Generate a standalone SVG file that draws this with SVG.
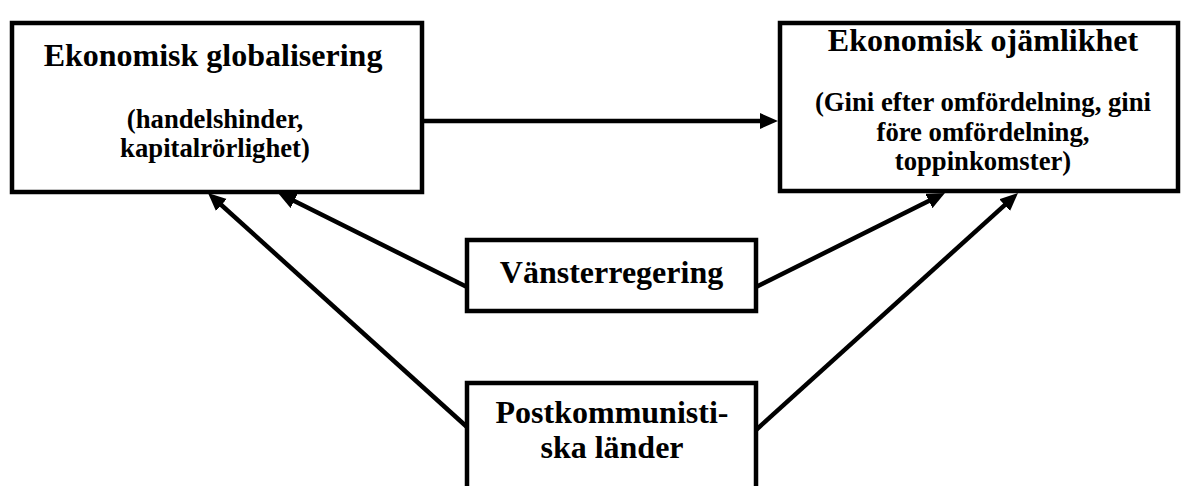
<svg xmlns="http://www.w3.org/2000/svg" width="1182" height="486" viewBox="0 0 1182 486">
  <style>
    .box { fill: #ffffff; stroke: #000000; stroke-width: 4.5; }
    .title { font-family: "Liberation Serif", "Times New Roman", serif; font-weight: bold; font-size: 32px; fill: #000000; text-anchor: middle; }
    .sub { font-family: "Liberation Serif", "Times New Roman", serif; font-weight: bold; font-size: 26.7px; fill: #000000; text-anchor: middle; }
    .conn { fill: none; stroke: #000000; stroke-width: 4.5; }
  </style>
  <defs>
    <marker id="arrow" markerUnits="userSpaceOnUse" markerWidth="20" markerHeight="18" refX="6" refY="8" orient="auto">
      <path d="M0,0 L18,8 L0,16 z" fill="#000000"/>
    </marker>
  </defs>
  <rect width="1182" height="486" fill="#ffffff"/>
  <g id="connectors">
    <line class="conn" x1="424" y1="121" x2="766" y2="121" marker-end="url(#arrow)"/>
    <line class="conn" x1="467" y1="287" x2="288.8" y2="198.3" marker-end="url(#arrow)"/>
    <line class="conn" x1="467" y1="427" x2="216.9" y2="201" marker-end="url(#arrow)"/>
    <line class="conn" x1="756" y1="287" x2="934.2" y2="198.3" marker-end="url(#arrow)"/>
    <line class="conn" x1="756" y1="430" x2="1009.1" y2="201.1" marker-end="url(#arrow)"/>
  </g>
  <g id="node-globalisering">
    <rect class="box" x="12" y="23" width="410" height="169"/>
    <text class="title" x="213" y="66">Ekonomisk globalisering</text>
    <text class="sub" x="215" y="128">(handelshinder,</text>
    <text class="sub" x="215" y="157">kapitalrörlighet)</text>
  </g>
  <g id="node-ojamlikhet">
    <rect class="box" x="780" y="23" width="398" height="168"/>
    <text class="title" x="983" y="51">Ekonomisk ojämlikhet</text>
    <text class="sub" x="983" y="111">(Gini efter omfördelning, gini</text>
    <text class="sub" x="983" y="141">före omfördelning,</text>
    <text class="sub" x="983" y="170">toppinkomster)</text>
  </g>
  <g id="node-vansterregering">
    <rect class="box" x="467" y="240" width="289" height="71"/>
    <text class="title" x="611.5" y="283">Vänsterregering</text>
  </g>
  <g id="node-postkommunistiska">
    <rect class="box" x="467" y="383" width="289" height="110"/>
    <text class="title" x="612" y="423">Postkommunisti-</text>
    <text class="title" x="612" y="458">ska länder</text>
  </g>
</svg>
